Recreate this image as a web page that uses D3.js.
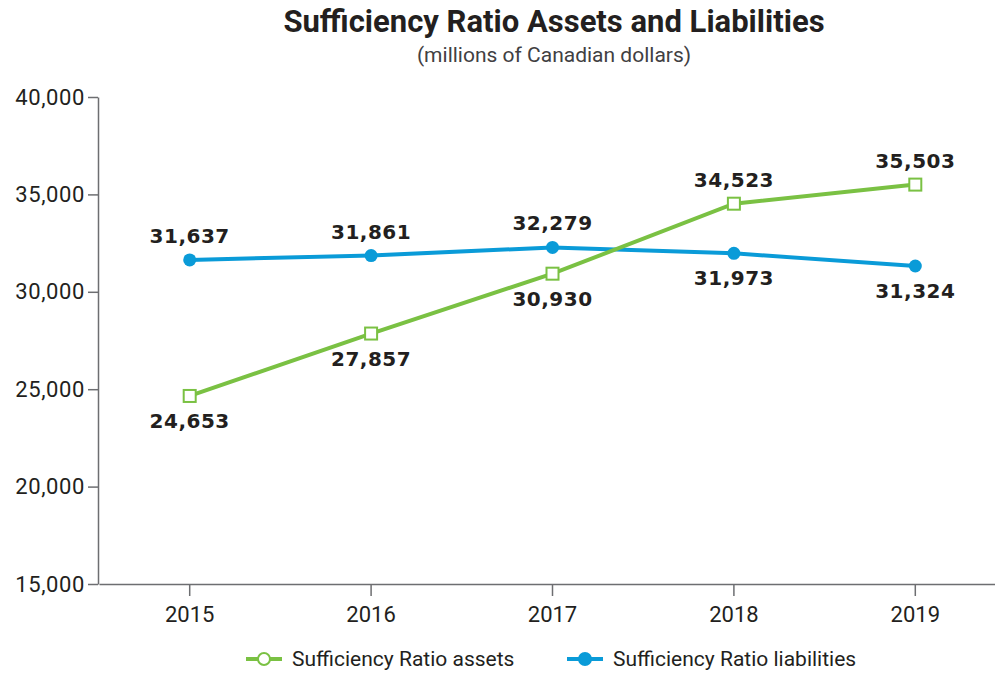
<!DOCTYPE html>
<html>
<head>
<meta charset="utf-8">
<script src="https://cdn.jsdelivr.net/npm/d3@7"></script>
<style>
  body { margin: 0; background: #fff; }
  svg { display: block; }
</style>
</head>
<body>
<div id="chart"></div>
<script>
const years = ['2015', '2016', '2017', '2018', '2019'];
const assets = [24653, 27857, 30930, 34523, 35503];
const liabilities = [31637, 31861, 32279, 31973, 31324];
// which side each value label goes on (-1 above, 1 below)
const assetsLabelSide = [1, 1, 1, -1, -1];
const liabilitiesLabelSide = [-1, -1, -1, 1, 1];
const yTicks = [15000, 20000, 25000, 30000, 35000, 40000];

const W = 995, H = 673;
const GREEN = '#7ac143', BLUE = '#0a9bd8', INK = '#231f20', AXIS = '#6d6e71';
const sans = 'Roboto, "Open Sans", sans-serif';

const svg = d3.select('#chart').append('svg')
  .attr('width', W).attr('height', H)
  .attr('viewBox', `0 0 ${W} ${H}`);

const x = d3.scaleBand().domain(years).range([99, 1006]);
const y = d3.scaleLinear().domain([15000, 40000]).range([584, 97]);
const cx = d => x(d) + x.bandwidth() / 2;

// Title
svg.append('text')
  .attr('x', 554).attr('y', 32)
  .attr('text-anchor', 'middle')
  .attr('font-family', sans).attr('font-weight', 'bold')
  .attr('font-size', 31).attr('fill', INK)
  .text('Sufficiency Ratio Assets and Liabilities');
svg.append('text')
  .attr('x', 554).attr('y', 62)
  .attr('text-anchor', 'middle')
  .attr('font-family', sans)
  .attr('font-size', 21).attr('fill', '#414042')
  .text('(millions of Canadian dollars)');

// Axes
svg.append('g')
  .attr('transform', 'translate(98,0)')
  .call(d3.axisLeft(y).tickValues(yTicks).tickSize(10).tickSizeOuter(0).tickPadding(3).tickFormat(d3.format(',')))
  .call(sel => sel.selectAll('text').attr('font-family', sans).attr('font-size', 22)
    .attr('letter-spacing', 0.6).attr('fill', INK))
  .call(sel => sel.selectAll('line, path').attr('stroke', AXIS).attr('stroke-width', 1.5));

svg.append('g')
  .attr('transform', 'translate(0,584)')
  .call(d3.axisBottom(x).tickSize(12).tickSizeOuter(0).tickPadding(10))
  .call(sel => sel.selectAll('text').attr('font-family', sans).attr('font-size', 22).attr('fill', INK))
  .call(sel => sel.selectAll('line, path').attr('stroke', AXIS).attr('stroke-width', 1.5));

// Lines
const series = [
  { name: 'Sufficiency Ratio assets', values: assets, side: assetsLabelSide, color: GREEN, marker: 'square' },
  { name: 'Sufficiency Ratio liabilities', values: liabilities, side: liabilitiesLabelSide, color: BLUE, marker: 'circle' }
];

const line = d3.line().x((d, i) => cx(years[i])).y(d => y(d));

// liabilities drawn first, assets on top
series.slice().reverse().forEach(s => {
  svg.append('path').datum(s.values)
    .attr('fill', 'none').attr('stroke', s.color).attr('stroke-width', 4)
    .attr('d', line);
});

series.forEach(s => {
  const pts = s.values.map((v, i) => ({ v, year: years[i], side: s.side[i] }));
  if (s.marker === 'square') {
    svg.selectAll(null).data(pts).enter().append('rect')
      .attr('x', d => cx(d.year) - 6).attr('y', d => y(d.v) - 6)
      .attr('width', 12).attr('height', 12)
      .attr('fill', '#fff').attr('stroke', s.color).attr('stroke-width', 2);
  } else {
    svg.selectAll(null).data(pts).enter().append('circle')
      .attr('cx', d => cx(d.year)).attr('cy', d => y(d.v)).attr('r', 6.5)
      .attr('fill', s.color);
  }
  svg.selectAll(null).data(pts).enter().append('text')
    .attr('x', d => cx(d.year))
    .attr('y', d => y(d.v) + (d.side < 0 ? -17 : 32))
    .attr('text-anchor', 'middle')
    .attr('font-family', '"DejaVu Sans", sans-serif').attr('font-weight', 'bold')
    .attr('font-size', 20).attr('letter-spacing', 0.5).attr('fill', INK)
    .text(d => d3.format(',')(d.v));
});

// Legend
const legend = svg.append('g').attr('transform', 'translate(0,659)');
const legendItems = [
  { s: series[0], x: 246 },
  { s: series[1], x: 567 }
];
legendItems.forEach(({ s, x: lx }) => {
  const g = legend.append('g').attr('transform', `translate(${lx},0)`);
  g.append('line').attr('x1', 0).attr('x2', 36).attr('y1', 0).attr('y2', 0)
    .attr('stroke', s.color).attr('stroke-width', 4);
  g.append('circle').attr('cx', 18).attr('cy', 0).attr('r', 6)
    .attr('fill', s.marker === 'square' ? '#fff' : s.color)
    .attr('stroke', s.color).attr('stroke-width', 2);
  g.append('text').attr('x', 46).attr('y', 7)
    .attr('font-family', sans).attr('font-size', 21).attr('fill', INK)
    .text(s.name);
});
</script>
</body>
</html>
